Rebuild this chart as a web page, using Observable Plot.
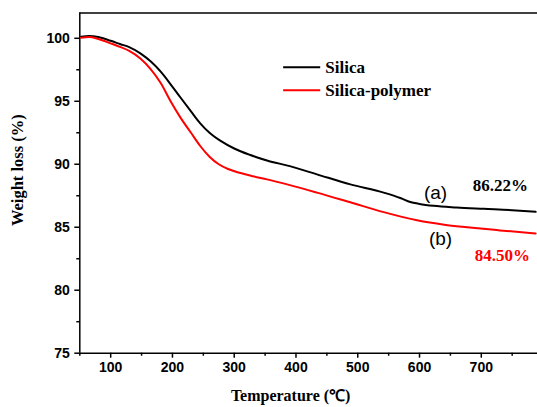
<!DOCTYPE html>
<html>
<head>
<meta charset="utf-8">
<script src="https://cdn.jsdelivr.net/npm/d3@7"></script>
<script src="https://cdn.jsdelivr.net/npm/@observablehq/plot@0.6"></script>
<style>
  html, body { margin: 0; padding: 0; background: #fff; }
  svg { display: block; }
</style>
</head>
<body>
<div id="chart"></div>
<script>
// Temperature (°C) and weight (%)
const silicaT = [52, 65, 80, 100, 116, 130, 148, 165, 181, 197, 213, 230, 245, 260, 278, 300, 325, 353, 390, 434, 488, 542, 570, 585, 600, 623, 660, 704, 750, 788];
const silicaW = [100.13, 100.18, 100.1, 99.8, 99.53, 99.3, 98.8, 98.15, 97.35, 96.35, 95.3, 94.2, 93.25, 92.5, 91.85, 91.25, 90.75, 90.3, 89.85, 89.2, 88.4, 87.75, 87.3, 87.0, 86.85, 86.7, 86.57, 86.46, 86.35, 86.22];
const polyT = [52, 65, 80, 100, 116, 130, 148, 164, 181, 197, 213, 230, 245, 260, 275, 290, 310, 330, 353, 434, 488, 542, 596, 640, 677, 730, 788];
const polyW = [100.05, 100.1, 99.95, 99.6, 99.3, 99.0, 98.4, 97.6, 96.45, 95.0, 93.7, 92.5, 91.45, 90.6, 90.0, 89.62, 89.3, 89.05, 88.8, 87.75, 86.98, 86.2, 85.55, 85.2, 85.0, 84.75, 84.5];
const seriesNames = ["Silica", "Silica-polymer"];
const seriesColors = ["#000000", "#ff0000"];
const xTicks = [100, 200, 300, 400, 500, 600, 700];
const xMinor = [50, 150, 250, 350, 450, 550, 650, 750];
const yTicks = [75, 80, 85, 90, 95, 100];
const yMinor = [77.5, 82.5, 87.5, 92.5, 97.5];
const curveTags = ["(a)", "(b)"];
const finalLabels = ["86.22%", "84.50%"];

const silica = silicaT.map((t, i) => ({t, w: silicaW[i]}));
const poly = polyT.map((t, i) => ({t, w: polyW[i]}));

const serif = "'Liberation Serif', 'Times New Roman', serif";
const sans = "'Liberation Sans', Arial, sans-serif";

const legendRows = seriesNames.map((name, i) => ({name, color: seriesColors[i], y: [97.71, 95.87][i]}));
const tagRows = [
  {label: curveTags[0], t: 626, w: 87.74},
  {label: curveTags[1], t: 634, w: 84.11}
];
const finalRows = [
  {label: finalLabels[0], t: 731, w: 88.3, color: seriesColors[0]},
  {label: finalLabels[1], t: 734, w: 82.77, color: seriesColors[1]}
];

const chart = Plot.plot({
  width: 537,
  height: 407,
  marginLeft: 79.3,
  marginRight: 0,
  marginTop: 12.6,
  marginBottom: 54.3,
  x: {domain: [50, 791]},
  y: {domain: [75, 102]},
  style: {background: "#fff", overflow: "visible"},
  marks: [
    // axes
    Plot.axisX({ticks: xTicks, tickSize: 5, tickPadding: 4, tickFormat: d => d, fontSize: 14, fontWeight: "bold", fontFamily: sans, label: null, stroke: "#000", strokeWidth: 1.5}),
    Plot.axisX({ticks: xMinor, tickSize: 3, text: null, label: null, stroke: "#000", strokeWidth: 1.5}),
    Plot.axisY({ticks: yTicks, tickSize: 5, tickPadding: 5, tickFormat: d => d, fontSize: 14, fontWeight: "bold", fontFamily: sans, label: null, stroke: "#000", strokeWidth: 1.5}),
    Plot.axisY({ticks: yMinor, tickSize: 3, text: null, label: null, stroke: "#000", strokeWidth: 1.5}),
    Plot.ruleX([50], {stroke: "#000", strokeWidth: 1.5}),
    Plot.ruleY([75], {stroke: "#000", strokeWidth: 1.5}),
    Plot.ruleY([102], {stroke: "#000", strokeWidth: 1.5}),
    // axis titles
    Plot.text(["Temperature (℃)"], {frameAnchor: "bottom", dy: 48, dx: -18, textAnchor: "middle", text: d => d, fontFamily: serif, fontWeight: "bold", fontSize: 16, fill: "#000"}),
    Plot.text(["Weight loss (%)"], {frameAnchor: "left", rotate: -90, dx: -62, dy: -13, textAnchor: "middle", text: d => d, fontFamily: serif, fontWeight: "bold", fontSize: 16.5, fill: "#000"}),
    // curves
    Plot.line(silica, {x: "t", y: "w", stroke: seriesColors[0], strokeWidth: 2, curve: "monotone-x"}),
    Plot.line(poly, {x: "t", y: "w", stroke: seriesColors[1], strokeWidth: 2, curve: "monotone-x"}),
    // legend
    Plot.ruleY(legendRows, {y: "y", x1: 380, x2: 440, stroke: "color", strokeWidth: 2}),
    Plot.text(legendRows, {x: 447.5, y: "y", text: "name", textAnchor: "start", fontFamily: serif, fontWeight: "bold", fontSize: 17, fill: "#000"}),
    // annotations
    Plot.text(tagRows, {x: "t", y: "w", text: "label", fontFamily: sans, fontSize: 19, fill: "#000"}),
    Plot.text(finalRows, {x: "t", y: "w", text: "label", fontFamily: serif, fontWeight: "bold", fontSize: 17, fill: "color"})
  ]
});
document.getElementById("chart").appendChild(chart);
</script>
</body>
</html>
